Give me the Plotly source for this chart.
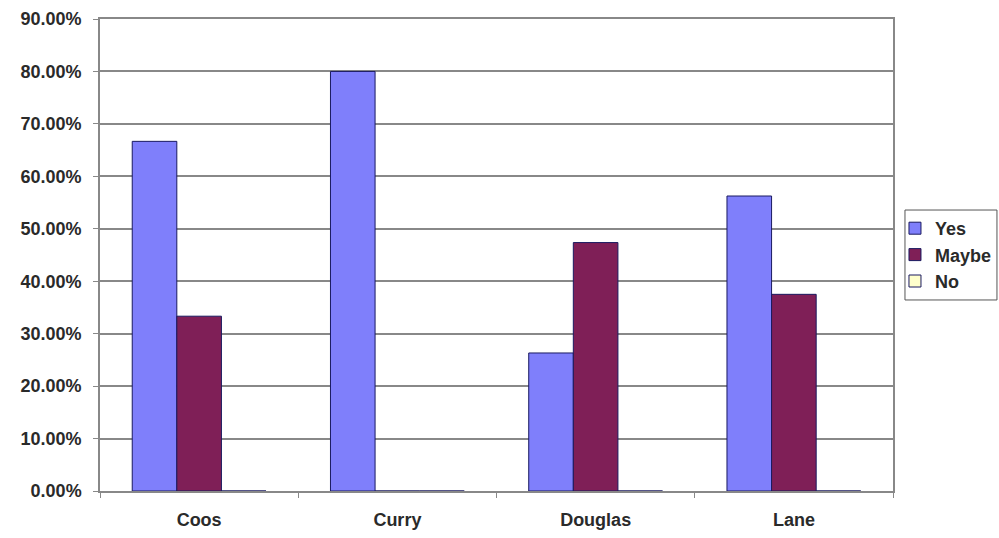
import plotly.graph_objects as go

# Share of responses per county
counties = ["Coos", "Curry", "Douglas", "Lane"]
yes_share = [0.6667, 0.80, 0.2632, 0.5625]
maybe_share = [0.3333, 0.0, 0.4737, 0.375]
no_share = [0.0, 0.0, 0.0, 0.0]

series = [
    ("Yes", yes_share, "#7F7FFB"),
    ("Maybe", maybe_share, "#7F1F57"),
    ("No", no_share, "#FFFFCC"),
]

fig = go.Figure()
for name, vals, color in series:
    fig.add_trace(go.Bar(
        name=name, x=counties, y=vals,
        marker=dict(color=color, line=dict(color="#1A1A60", width=1)),
    ))

font_bold = dict(family="Liberation Sans, Arial, sans-serif", size=18,
                 color="#2A2A2A", weight="bold")

fig.update_layout(
    width=999, height=538,
    margin=dict(l=100, r=106, t=19, b=47, autoexpand=False),
    paper_bgcolor="white", plot_bgcolor="white",
    barmode="group", bargap=0.325, bargroupgap=0,
    font=font_bold,
    showlegend=True,
    legend=dict(
        x=1.0025, y=0.5, xanchor="left", yanchor="middle",
        borderwidth=0, bgcolor="rgba(0,0,0,0)",
        font=font_bold, itemwidth=30, tracegroupgap=0,
    ),
    xaxis=dict(
        showline=True, linecolor="#888888", linewidth=1.5, mirror=True,
        ticks="outside", tickson="boundaries", ticklen=5, tickcolor="#888888",
        showgrid=False, tickfont=font_bold, ticklabelstandoff=12,
    ),
    yaxis=dict(
        range=[0, 0.9], dtick=0.1, tickformat=".2%",
        showline=True, linecolor="#888888", linewidth=1.5, mirror=True,
        ticks="outside", ticklen=5, tickcolor="#888888",
        showgrid=True, gridcolor="#888888", gridwidth=1.5,
        zeroline=False, tickfont=font_bold, ticklabelstandoff=8,
    ),
)

# Frame around the legend
fig.add_shape(
    type="rect", xref="paper", yref="paper",
    x0=1.0151, x1=1.1311, y0=0.4047, y1=0.5953,
    line=dict(color="#555555", width=1), fillcolor="rgba(0,0,0,0)",
)

fig.write_html("out.html")
